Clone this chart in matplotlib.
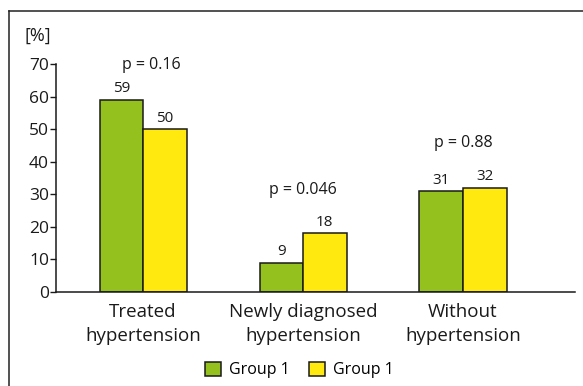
import matplotlib
matplotlib.use("Agg")
import matplotlib.pyplot as plt
from matplotlib.lines import Line2D
from matplotlib.patches import Patch
import numpy as np

categories = ["Treated\nhypertension", "Newly diagnosed\nhypertension", "Without\nhypertension"]
group1 = [59, 9, 31]
group2 = [50, 18, 32]
p_values = ["p = 0.16", "p = 0.046", "p = 0.88"]
series_names = ["Group 1", "Group 1"]
yticks = [0, 10, 20, 30, 40, 50, 60, 70]

plt.rcParams['font.family'] = ['Open Sans', 'DejaVu Sans']

W, H = 583, 386
fig = plt.figure(figsize=(W / 100, H / 100), dpi=100)
ax = fig.add_axes([56 / W, 1 - 292 / H, (575 - 56) / W, (292 - 64) / H])

green = "#95c11f"
yellow = "#ffe90f"
x = np.arange(len(categories))
bw = 0.272
b1 = ax.bar(x - bw / 2, group1, bw, color=green, edgecolor="#1a1a1a", linewidth=1.1)
b2 = ax.bar(x + bw / 2, group2, bw, color=yellow, edgecolor="#1a1a1a", linewidth=1.1)

for bars, vals in ((b1, group1), (b2, group2)):
    for r, v in zip(bars, vals):
        ax.annotate(str(v), (r.get_x() + r.get_width() / 2, v), xytext=(0, 2.5),
                    textcoords="offset points", ha="center", va="bottom", fontsize=11,
                    color="#1a1a1a")

# p-value label offsets above the taller bar (points) and horizontal shift (data)
p_off = [25, 31, 32]
p_dx = [0.05, 0.0, 0.0]
for i, (pt, a, b) in enumerate(zip(p_values, group1, group2)):
    ax.annotate(pt, (x[i] + p_dx[i], max(a, b)), xytext=(0, p_off[i]),
                textcoords="offset points", ha="center", va="center", fontsize=11.5,
                color="#1a1a1a")

ax.set_xlim(-0.544, 2.7)
ax.set_ylim(0, 70)
ax.set_yticks(yticks)
ax.set_xticks(x)
ax.set_xticklabels(categories, fontsize=13.5, linespacing=1.4, color="#1a1a1a")
ax.tick_params(axis="x", length=0, pad=8)
ax.tick_params(axis="y", direction="out", length=4, width=1, labelsize=12.5, pad=1,
               colors="#1a1a1a")
for s in ("top", "right"):
    ax.spines[s].set_visible(False)
for s in ("left", "bottom"):
    ax.spines[s].set_linewidth(1.1)
    ax.spines[s].set_color("#1a1a1a")

fig.text(24 / W, 1 - 36 / H, "[%]", fontsize=13, ha="left", va="center", color="#1a1a1a")

handles = [Patch(facecolor=green, edgecolor="#1a1a1a", linewidth=1.1),
           Patch(facecolor=yellow, edgecolor="#1a1a1a", linewidth=1.1)]
fig.legend(handles, series_names, loc="center", bbox_to_anchor=(299 / W, 1 - 370 / H),
           ncol=2, frameon=False, fontsize=11.5, handlelength=1.05, handleheight=0.95,
           handletextpad=0.45, columnspacing=1.2)

# outer frame lines (top and left)
fig.add_artist(Line2D([9 / W, 1.0], [1 - 11 / H, 1 - 11 / H], transform=fig.transFigure,
                      color="#222222", linewidth=1.1))
fig.add_artist(Line2D([9 / W, 9 / W], [1 - 11 / H, 0.0], transform=fig.transFigure,
                      color="#222222", linewidth=1.1))

fig.savefig("out.png", dpi=100)
